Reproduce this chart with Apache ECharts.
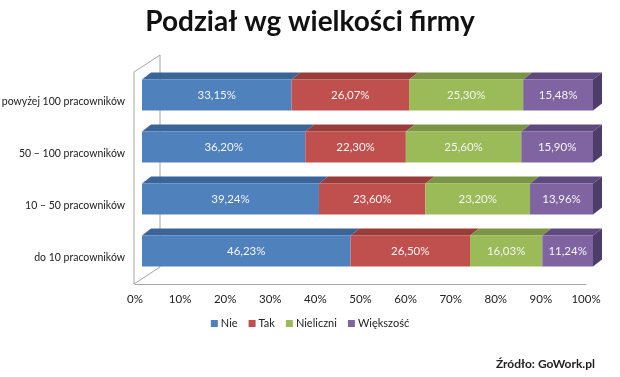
<!DOCTYPE html>
<html>
<head>
<meta charset="utf-8">
<script src="https://cdn.jsdelivr.net/npm/echarts@6/dist/echarts.min.js"></script>
<style>
  html, body { margin: 0; padding: 0; background: #fff; }
  #chart { width: 620px; height: 377px; }
</style>
</head>
<body>
<div id="chart"></div>
<script>
// categories bottom -> top (category axis draws first item at the bottom)
var categories = ['do 10 pracowników', '10 – 50 pracowników', '50 – 100 pracowników', 'powyżej 100 pracowników']
var seriesNames = ['Nie', 'Tak', 'Nieliczni', 'Większość']
var nie = [46.23, 39.24, 36.20, 33.15]
var tak = [26.50, 23.60, 22.30, 26.07]
var nieliczni = [16.03, 23.20, 25.60, 25.30]
var wiekszosc = [11.24, 13.96, 15.90, 15.48]
var xTicks = [0, 10, 20, 30, 40, 50, 60, 70, 80, 90, 100]

var frontColors = ['#4F81BD', '#C0504D', '#9BBB59', '#8064A2']
var topColors = ['#3B6498', '#983D3A', '#7B9545', '#5F4A80']
var sideColor = '#4E3D6B'
var FONT = 'Lato'

// grid geometry
var G = { left: 135, right: 34, top: 76, bottom: 93 }
var DEPTH_X = 9, DEPTH_Y = 7      // 3d depth of a bar
var SHIFT_X = 7, SHIFT_Y = -7     // front face offset from floor plane
var BAR_H = 31

var chart = echarts.init(document.getElementById('chart'))

var allValues = [nie, tak, nieliczni, wiekszosc]
var starts = categories.map(function () { return 0 })

var series = allValues.map(function (vals, si) {
    var data = vals.map(function (v, ci) {
        var s = starts[ci]
        starts[ci] += v
        return [ci, s, s + v, v]
    })
    return {
        name: seriesNames[si],
        type: 'custom',
        itemStyle: { color: frontColors[si] },
        encode: { x: [1, 2], y: 0 },
        renderItem: function (params, api) {
            var ci = api.value(0)
            var a = api.coord([api.value(1), ci])
            var b = api.coord([api.value(2), ci])
            var x0 = a[0] + SHIFT_X
            var x1 = b[0] + SHIFT_X
            var yc = a[1] + SHIFT_Y
            var top = yc - BAR_H / 2
            var bot = yc + BAR_H / 2
            var kids = [{
                type: 'polygon',
                shape: { points: [[x0, top], [x0 + DEPTH_X, top - DEPTH_Y], [x1 + DEPTH_X, top - DEPTH_Y], [x1, top]] },
                style: { fill: topColors[si] }
            }, {
                type: 'rect',
                shape: { x: x0, y: top, width: x1 - x0, height: BAR_H },
                style: { fill: frontColors[si] }
            }]
            if (si === allValues.length - 1) {
                kids.push({
                    type: 'polygon',
                    shape: { points: [[x1, top], [x1 + DEPTH_X, top - DEPTH_Y], [x1 + DEPTH_X, bot - DEPTH_Y], [x1, bot]] },
                    style: { fill: sideColor }
                })
            }
            kids.push({
                type: 'text',
                style: {
                    x: (x0 + x1) / 2,
                    y: yc,
                    text: api.value(3).toFixed(2).replace('.', ',') + '%',
                    fill: '#F4F4F4',
                    font: '11.5px ' + FONT + ', sans-serif',
                    align: 'center',
                    verticalAlign: 'middle'
                }
            })
            return { type: 'group', children: kids }
        },
        data: data
    }
})

// 3d frame (walls) built from the grid box
var L = G.left - 1, T = G.top - 4, B = 377 - G.bottom
var lineStyle = { stroke: '#A6A6A6', lineWidth: 1 }
var frame = [
    [L, T, L, B],
    [L, T, L + 26, T - 17],
    [L + 26, T - 17, L + 26, B - 17],
    [L, B, L + 26, B - 17]
].map(function (p) {
    return { type: 'line', shape: { x1: p[0], y1: p[1], x2: p[2], y2: p[3] }, style: lineStyle, z: 0 }
})

chart.setOption({
    animation: false,
    title: {
        text: 'Podział wg wielkości firmy',
        left: 'center',
        top: 3,
        textStyle: { fontFamily: FONT, fontWeight: 'bold', fontSize: 28, color: '#111' }
    },
    legend: {
        data: seriesNames,
        bottom: 43,
        left: 'center',
        itemWidth: 7,
        itemHeight: 7,
        itemGap: 11,
        icon: 'rect',
        textStyle: { fontFamily: FONT, fontSize: 11, color: '#222', padding: [0, 0, 0, -2] }
    },
    grid: { left: G.left, right: G.right, top: G.top, bottom: G.bottom, containLabel: false, outerBoundsMode: 'none' },
    xAxis: {
        type: 'value',
        min: xTicks[0],
        max: xTicks[xTicks.length - 1],
        interval: 10,
        axisLine: { show: true, lineStyle: { color: '#A6A6A6' } },
        axisTick: { show: false },
        splitLine: { show: false },
        axisLabel: {
            margin: 9,
            formatter: '{value}%',
            fontFamily: FONT,
            fontSize: 11.5,
            color: '#222'
        }
    },
    yAxis: {
        type: 'category',
        data: categories,
        axisLine: { show: false },
        axisTick: { show: false },
        axisLabel: {
            margin: 10,
            fontFamily: FONT,
            fontSize: 10.5,
            color: '#222'
        }
    },
    graphic: frame.concat([{
        type: 'text',
        right: 25,
        top: 358,
        style: { text: 'Źródło: GoWork.pl', font: 'bold 12px ' + FONT + ', sans-serif', fill: '#222' }
    }]),
    series: series
})
</script>
</body>
</html>
